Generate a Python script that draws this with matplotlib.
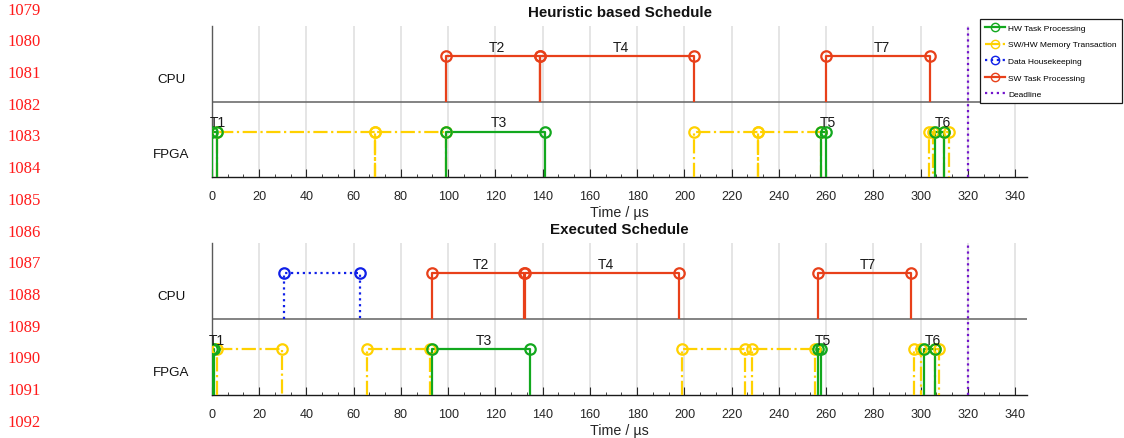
import matplotlib
matplotlib.use("Agg")
import matplotlib.pyplot as plt
from matplotlib.lines import Line2D
from matplotlib.transforms import blended_transform_factory
from matplotlib.ticker import MultipleLocator

plt.rcParams['font.family'] = ['Liberation Sans', 'DejaVu Sans']

# ---------------- data ----------------
line_numbers = ["1079", "1080", "1081", "1082", "1083", "1084", "1085",
                "1086", "1087", "1088", "1089", "1090", "1091", "1092"]

titles = ["Heuristic based Schedule", "Executed Schedule"]
resources = ["CPU", "FPGA"]
xlabel = "Time / µs"
deadline = 320

# Heuristic schedule
heur_sw_start = [99, 139, 260]
heur_sw_end = [139, 204, 304]
heur_sw_label = ["T2", "T4", "T7"]
heur_dh_start = []
heur_dh_end = []
heur_hw_start = [0, 99, 258, 306]
heur_hw_end = [2, 141, 260, 310]
heur_hw_label = ["T1", "T3", "T5", "T6"]
heur_mem_start = [2, 69, 204, 231, 303.6, 310]
heur_mem_end = [69, 99, 231, 258, 305.0, 311.8]

# Executed schedule
exec_sw_start = [93, 132.7, 256.5]
exec_sw_end = [132.1, 197.5, 296]
exec_sw_label = ["T2", "T4", "T7"]
exec_dh_start = [30.3]
exec_dh_end = [62.5]
exec_hw_start = [0, 93, 256.7, 301.2]
exec_hw_end = [1, 134.5, 257.7, 306]
exec_hw_label = ["T1", "T3", "T5", "T6"]
exec_mem_start = [2, 65.8, 198.9, 228.7, 297.2, 306]
exec_mem_end = [29.5, 92.3, 225.5, 255.3, 300, 307.9]

legend_labels = ["HW Task Processing", "SW/HW Memory Transaction",
                 "Data Housekeeping", "SW Task Processing", "Deadline"]

# ---------------- style ----------------
C_HW = '#12A81E'
C_MEM = '#FFD100'
C_DH = '#1020E8'
C_SW = '#E8401A'
C_DL = '#7214CC'
H = 0.6
LW = 1.6
MS = 7.5

W, Hpx = 1124, 439
fig = plt.figure(figsize=(W / 100, Hpx / 100), dpi=100)
fig.patch.set_facecolor('white')

ax1 = fig.add_axes([212 / W, 1 - 178 / Hpx, 815 / W, 151 / Hpx])
ax2 = fig.add_axes([212 / W, 1 - 396 / Hpx, 815 / W, 152 / Hpx])


def draw_intervals(ax, starts, ends, base, color, ls, labels=None):
    for i, (s, e) in enumerate(zip(starts, ends)):
        ax.plot([s, s, e, e], [base, base + H, base + H, base], color=color,
                ls=ls, lw=LW, zorder=3, solid_capstyle='butt')
        ax.plot([s, e], [base + H, base + H], ls='none', marker='o', ms=MS,
                mfc='none', mec=color, mew=1.6, zorder=4)
        if labels is not None:
            ax.text((s + e) / 2 + 1.5, base + H + 0.07, labels[i], ha='center',
                    va='baseline', fontsize=10, color='#1a1a1a', zorder=5)


def setup(ax, title):
    ax.set_xlim(0, 345)
    ax.set_ylim(0, 2)
    ax.spines['top'].set_visible(False)
    ax.spines['right'].set_visible(False)
    ax.spines['left'].set_color('#5a5a5a')
    ax.spines['bottom'].set_color('#1a1a1a')
    ax.spines['left'].set_linewidth(1.0)
    ax.spines['bottom'].set_linewidth(1.0)
    ax.xaxis.set_major_locator(MultipleLocator(20))
    ax.xaxis.set_minor_locator(MultipleLocator(20 / 3))
    ax.tick_params(axis='x', which='major', direction='in', length=5.5,
                   width=0.8, colors='#262626', labelsize=9.1, pad=9.2)
    ax.tick_params(axis='x', which='minor', direction='in', length=2.5,
                   width=0.6, colors='#262626')
    ax.set_yticks([])
    ax.grid(axis='x', which='major', color='#e3e3e3', lw=1.3, zorder=0)
    ax.set_axisbelow(True)
    ax.axhline(1, color='#6e6e6e', lw=1.2, zorder=2)
    ax.axvline(deadline, color=C_DL, ls=':', lw=1.6, zorder=3)
    ax.set_xlabel(xlabel, fontsize=10.3, color='#262626', labelpad=2)
    ax.set_title(title, fontsize=10.9, fontweight='bold', pad=7, color='#111111')
    tr = blended_transform_factory(fig.transFigure, ax.transData)
    ax.text(171 / W, 1.3, resources[0], transform=tr, ha='center', va='center',
            fontsize=9.6, color='#111111')
    ax.text(171 / W, 0.3, resources[1], transform=tr, ha='center', va='center',
            fontsize=9.6, color='#111111')


for ax, title, sw_s, sw_e, sw_l, dh_s, dh_e, hw_s, hw_e, hw_l, m_s, m_e in [
        (ax1, titles[0], heur_sw_start, heur_sw_end, heur_sw_label,
         heur_dh_start, heur_dh_end, heur_hw_start, heur_hw_end, heur_hw_label,
         heur_mem_start, heur_mem_end),
        (ax2, titles[1], exec_sw_start, exec_sw_end, exec_sw_label,
         exec_dh_start, exec_dh_end, exec_hw_start, exec_hw_end, exec_hw_label,
         exec_mem_start, exec_mem_end)]:
    setup(ax, title)
    draw_intervals(ax, m_s, m_e, 0, C_MEM, '-.')
    draw_intervals(ax, hw_s, hw_e, 0, C_HW, '-', hw_l)
    draw_intervals(ax, dh_s, dh_e, 1, C_DH, ':')
    draw_intervals(ax, sw_s, sw_e, 1, C_SW, '-', sw_l)

# legend
handles = [
    Line2D([], [], color=C_HW, ls='-', lw=LW, marker='o', mfc='none', mec=C_HW, ms=6),
    Line2D([], [], color=C_MEM, ls='-.', lw=LW, marker='o', mfc='none', mec=C_MEM, ms=6),
    Line2D([], [], color=C_DH, ls=':', lw=LW, marker='o', mfc='none', mec=C_DH, ms=6),
    Line2D([], [], color=C_SW, ls='-', lw=LW, marker='o', mfc='none', mec=C_SW, ms=6),
    Line2D([], [], color=C_DL, ls=':', lw=LW),
]
leg = fig.legend(handles, legend_labels, loc='upper right',
                 bbox_to_anchor=(1122 / W, 1 - 20 / Hpx), bbox_transform=fig.transFigure,
                 fontsize=6, frameon=True, fancybox=False, framealpha=1,
                 edgecolor='#1a1a1a', handlelength=2.5, handletextpad=0.35,
                 labelspacing=1.05, borderpad=0.6, borderaxespad=0)
leg.get_frame().set_linewidth(0.9)

# red line numbers
for i, num in enumerate(line_numbers):
    y = 10.7 + 31.7 * i
    fig.text(7 / W, 1 - y / Hpx, num, ha='left', va='center', color='#FF1A1A',
             fontsize=12, family='Liberation Serif')

fig.savefig('out.png', dpi=100)
